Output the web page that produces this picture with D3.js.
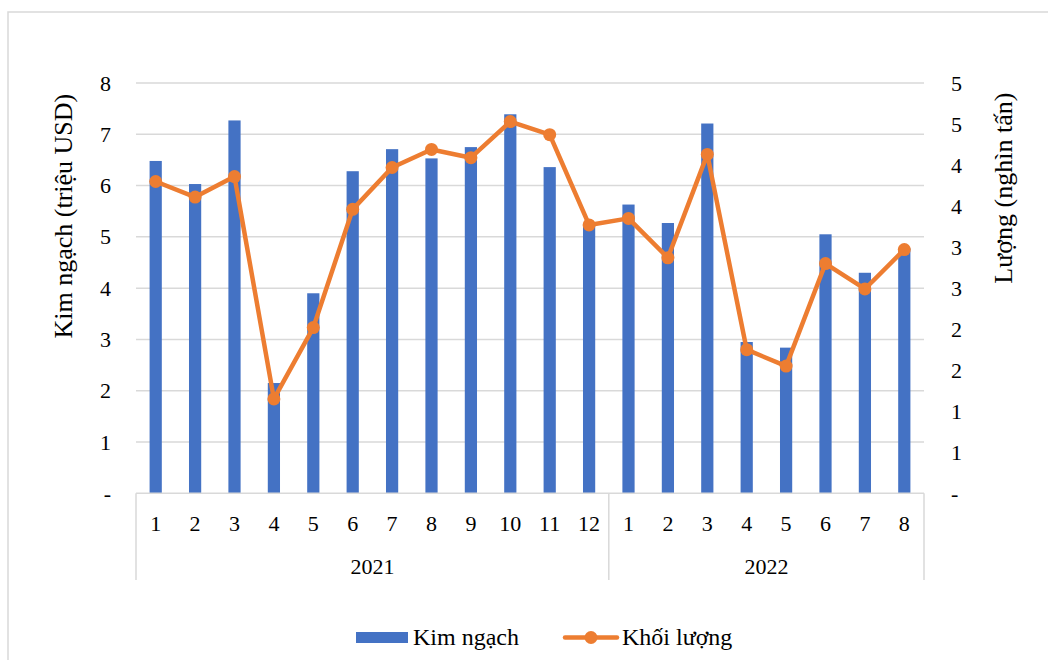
<!DOCTYPE html>
<html>
<head>
<meta charset="utf-8">
<script src="https://cdn.jsdelivr.net/npm/d3@7/dist/d3.min.js"></script>
<style>
  html, body { margin: 0; padding: 0; background: #fff; }
  svg { display: block; }
  text { font-family: "Liberation Serif", "Times New Roman", serif; fill: #000; }
</style>
</head>
<body>
<svg id="chart" width="1048" height="660"></svg>
<script>
// Monthly export data, 2021-01 .. 2022-08
const years = ["2021", "2022"];
const months2021 = ["1","2","3","4","5","6","7","8","9","10","11","12"];
const months2022 = ["1","2","3","4","5","6","7","8"];
// Kim ngạch (triệu USD) - bars, left axis
const kimNgach = [6.48, 6.03, 7.27, 2.15, 3.90, 6.28, 6.71, 6.53, 6.75, 7.39, 6.36, 5.25,
                  5.63, 5.27, 7.21, 2.95, 2.84, 5.05, 4.30, 4.78];
// Khối lượng (nghìn tấn) - line, right axis
const khoiLuong = [3.80, 3.61, 3.86, 1.15, 2.02, 3.46, 3.97, 4.19, 4.09, 4.53, 4.37, 3.27,
                   3.35, 2.87, 4.13, 1.75, 1.55, 2.80, 2.49, 2.97];
const leftTicks = [0, 1, 2, 3, 4, 5, 6, 7, 8];
const rightTicks = [0, 0.5, 1, 1.5, 2, 2.5, 3, 3.5, 4, 4.5, 5];
const seriesNames = ["Kim ngạch", "Khối lượng"];
const leftTitle = "Kim ngạch (triệu USD)";
const rightTitle = "Lượng (nghìn tấn)";

const BLUE = "#4472C4", ORANGE = "#ED7D31", GRID = "#d9d9d9";
const TICK_FONT = 22;

const categories = [
  ...months2021.map(m => ({ year: years[0], month: m })),
  ...months2022.map(m => ({ year: years[1], month: m }))
];
const keys = categories.map(c => c.year + "-" + c.month);

const svg = d3.select("#chart");
const plot = { left: 136, right: 924, top: 83, bottom: 493.3 };

// chart frame
svg.append("rect")
  .attr("x", 8).attr("y", 12).attr("width", 1060).attr("height", 680)
  .attr("fill", "#fff").attr("stroke", GRID).attr("stroke-width", 1.5);

const x = d3.scaleBand().domain(keys).range([plot.left, plot.right]).padding(0);
const yL = d3.scaleLinear().domain([0, 8]).range([plot.bottom, plot.top]);
const yR = d3.scaleLinear().domain([0, 5]).range([plot.bottom, plot.top]);

// horizontal gridlines
svg.append("g").selectAll("line").data(leftTicks.filter(d => d > 0)).join("line")
  .attr("x1", plot.left).attr("x2", plot.right)
  .attr("y1", d => yL(d)).attr("y2", d => yL(d))
  .attr("stroke", GRID).attr("stroke-width", 1.5);

// left axis
const axL = svg.append("g").attr("transform", `translate(${plot.left - 25},0)`)
  .call(d3.axisLeft(yL).tickValues(leftTicks).tickSize(0).tickPadding(0)
    .tickFormat(d => d === 0 ? "-" : d3.format("d")(d)));
axL.select(".domain").remove();
axL.selectAll("text").attr("font-size", TICK_FONT).attr("font-family", "Liberation Serif").attr("fill", "#000");

// right axis
const axR = svg.append("g").attr("transform", `translate(${plot.right + 27},0)`)
  .call(d3.axisRight(yR).tickValues(rightTicks).tickSize(0).tickPadding(0)
    .tickFormat(d => d === 0 ? "-" : String(Math.round(d))));
axR.select(".domain").remove();
axR.selectAll("text").attr("font-size", TICK_FONT).attr("font-family", "Liberation Serif").attr("fill", "#000");

// bars
const barW = x.bandwidth() * 0.31;
svg.append("g").selectAll("rect").data(kimNgach).join("rect")
  .attr("x", (d, i) => x(keys[i]) + (x.bandwidth() - barW) / 2)
  .attr("width", barW)
  .attr("y", d => yL(d))
  .attr("height", d => yL(0) - yL(d))
  .attr("fill", BLUE);

// category axis: baseline, dividers, labels
const cat = svg.append("g");
cat.append("line")
  .attr("x1", plot.left).attr("x2", plot.right)
  .attr("y1", plot.bottom).attr("y2", plot.bottom)
  .attr("stroke", GRID).attr("stroke-width", 1.5);
const dividers = [plot.left, x(years[1] + "-1"), plot.right];
cat.selectAll("line.div").data(dividers).join("line").attr("class", "div")
  .attr("x1", d => d).attr("x2", d => d)
  .attr("y1", plot.bottom).attr("y2", 580)
  .attr("stroke", GRID).attr("stroke-width", 1.5);
cat.selectAll("text.month").data(categories).join("text").attr("class", "month")
  .attr("x", (d, i) => x(keys[i]) + x.bandwidth() / 2)
  .attr("y", 531)
  .attr("text-anchor", "middle").attr("font-size", TICK_FONT)
  .text(d => d.month);
const yearSpans = [
  [plot.left, x(years[1] + "-1")],
  [x(years[1] + "-1"), plot.right]
];
cat.selectAll("text.year").data(years).join("text").attr("class", "year")
  .attr("x", (d, i) => (yearSpans[i][0] + yearSpans[i][1]) / 2)
  .attr("y", 574)
  .attr("text-anchor", "middle").attr("font-size", TICK_FONT)
  .text(d => d);

// line series
const line = d3.line()
  .x((d, i) => x(keys[i]) + x.bandwidth() / 2)
  .y(d => yR(d));
svg.append("path").datum(khoiLuong)
  .attr("d", line)
  .attr("fill", "none").attr("stroke", ORANGE)
  .attr("stroke-width", 4.5).attr("stroke-linejoin", "round").attr("stroke-linecap", "round");
svg.append("g").selectAll("circle").data(khoiLuong).join("circle")
  .attr("cx", (d, i) => x(keys[i]) + x.bandwidth() / 2)
  .attr("cy", d => yR(d))
  .attr("r", 6.5).attr("fill", ORANGE);

// axis titles
svg.append("text")
  .attr("transform", `translate(72,${(plot.top + plot.bottom) / 2 - 72}) rotate(-90)`)
  .attr("text-anchor", "middle").attr("font-size", 26)
  .text(leftTitle);
svg.append("text")
  .attr("transform", `translate(1012,${(plot.top + plot.bottom) / 2 - 100}) rotate(-90)`)
  .attr("text-anchor", "middle").attr("font-size", 26)
  .text(rightTitle);

// legend
const lg = svg.append("g");
lg.append("rect").attr("x", 356).attr("y", 632).attr("width", 52).attr("height", 11).attr("fill", BLUE);
lg.append("text").attr("x", 413).attr("y", 645).attr("font-size", 24).text(seriesNames[0]);
lg.append("line").attr("x1", 565).attr("x2", 617).attr("y1", 637.5).attr("y2", 637.5)
  .attr("stroke", ORANGE).attr("stroke-width", 4.5).attr("stroke-linecap", "round");
lg.append("circle").attr("cx", 591).attr("cy", 637.5).attr("r", 6.5).attr("fill", ORANGE);
lg.append("text").attr("x", 622).attr("y", 645).attr("font-size", 24).text(seriesNames[1]);
</script>
</body>
</html>
